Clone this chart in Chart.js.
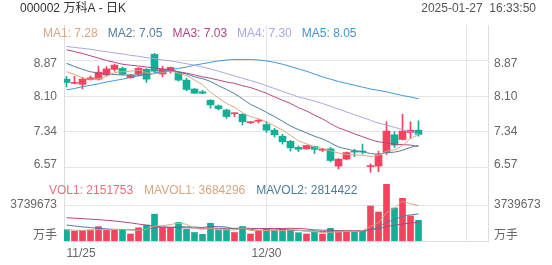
<!DOCTYPE html>
<html lang="zh-CN">
<head>
<meta charset="UTF-8">
<title>000002 万科A - 日K</title>
<script src="https://cdn.jsdelivr.net/npm/chart.js"></script>
<style>
  html, body { margin: 0; padding: 0; background: #fff; }
  #kline { display: block; }
</style>
</head>
<body>
<canvas id="kline" width="552" height="265"></canvas>
<script>
// trading days 2024-11-25 .. 2025-01-27
const dates = ['11/25','11/26','11/27','11/28','11/29','12/02','12/03','12/04','12/05','12/06',
  '12/09','12/10','12/11','12/12','12/13','12/16','12/17','12/18','12/19','12/20',
  '12/23','12/24','12/25','12/26','12/27','12/30','12/31','01/02','01/03','01/06',
  '01/07','01/08','01/09','01/10','01/13','01/14','01/15','01/16','01/17','01/20',
  '01/21','01/22','01/23','01/24','01/27'];

const open  = [8.47, 8.38, 8.36, 8.46, 8.47, 8.56, 8.68, 8.70, 8.50, 8.58, 8.68, 9.00, 8.58, 8.63, 8.60,
  8.45, 8.26, 8.20, 8.02, 7.90, 7.81, 7.73, 7.72, 7.54, 7.57, 7.50, 7.38, 7.25, 7.14, 7.01,
  6.98, 7.03, 6.95, 6.98, 6.61, 6.76, 6.92, 6.92, 6.60, 6.61, 6.90, 7.28, 7.18, 7.33, 7.38];
const close = [8.40, 8.39, 8.47, 8.50, 8.62, 8.69, 8.77, 8.58, 8.55, 8.70, 8.47, 8.64, 8.68, 8.72, 8.45,
  8.25, 8.17, 8.17, 7.92, 7.84, 7.67, 7.74, 7.56, 7.55, 7.58, 7.38, 7.28, 7.13, 7.00, 6.97,
  7.05, 6.97, 6.96, 6.73, 6.76, 6.90, 6.91, 6.91, 6.61, 6.85, 7.36, 7.06, 7.36, 7.38, 7.29];
const high  = [8.53, 8.53, 8.51, 8.54, 8.75, 8.74, 8.79, 8.73, 8.57, 8.72, 8.70, 9.02, 8.75, 8.73, 8.62,
  8.49, 8.27, 8.23, 8.03, 7.92, 7.83, 7.75, 7.73, 7.56, 7.61, 7.56, 7.42, 7.29, 7.16, 7.04,
  7.06, 7.04, 6.99, 7.01, 6.77, 6.91, 6.97, 7.08, 6.66, 6.93, 7.56, 7.35, 7.72, 7.56, 7.58];
const low   = [8.30, 8.37, 8.26, 8.45, 8.45, 8.54, 8.64, 8.56, 8.49, 8.54, 8.40, 8.61, 8.52, 8.60, 8.43,
  8.22, 8.16, 8.16, 7.85, 7.81, 7.63, 7.67, 7.49, 7.52, 7.53, 7.33, 7.23, 7.08, 6.93, 6.92,
  6.97, 6.88, 6.92, 6.70, 6.55, 6.75, 6.81, 6.87, 6.48, 6.49, 6.86, 7.01, 7.17, 7.21, 7.25];

const ma1 = [8.63, 8.57, 8.50, 8.47, 8.48, 8.53, 8.61, 8.63, 8.64, 8.66, 8.61, 8.59, 8.61, 8.64, 8.59,
  8.55, 8.45, 8.35, 8.19, 8.07, 7.95, 7.87, 7.75, 7.67, 7.62, 7.56, 7.47, 7.38, 7.27, 7.15,
  7.09, 7.02, 6.99, 6.94, 6.89, 6.86, 6.85, 6.84, 6.82, 6.84, 6.93, 6.96, 7.05, 7.20, 7.28];
const ma2 = [8.81, 8.74, 8.68, 8.63, 8.60, 8.58, 8.57, 8.56, 8.56, 8.56, 8.57, 8.59, 8.62, 8.64, 8.62,
  8.58, 8.52, 8.48, 8.42, 8.33, 8.25, 8.16, 8.05, 7.93, 7.85, 7.76, 7.67, 7.57, 7.47, 7.39,
  7.32, 7.25, 7.19, 7.11, 7.02, 6.98, 6.94, 6.92, 6.88, 6.87, 6.90, 6.91, 6.95, 7.01, 7.05];
const ma3 = [9.10, 9.06, 9.02, 8.97, 8.92, 8.87, 8.83, 8.79, 8.77, 8.75, 8.73, 8.71, 8.69, 8.67, 8.63,
  8.60, 8.56, 8.52, 8.49, 8.45, 8.41, 8.38, 8.33, 8.29, 8.23, 8.17, 8.09, 8.02, 7.95, 7.86,
  7.79, 7.70, 7.62, 7.52, 7.43, 7.37, 7.30, 7.24, 7.18, 7.13, 7.11, 7.08, 7.07, 7.06, 7.03];
const ma4 = [9.17, 9.15, 9.13, 9.11, 9.08, 9.06, 9.03, 9.01, 8.98, 8.96, 8.93, 8.91, 8.88, 8.86, 8.83,
  8.80, 8.77, 8.73, 8.69, 8.64, 8.59, 8.54, 8.49, 8.44, 8.39, 8.33, 8.27, 8.21, 8.15, 8.09,
  8.05, 8.00, 7.95, 7.89, 7.83, 7.77, 7.71, 7.65, 7.59, 7.53, 7.49, 7.44, 7.39, 7.35, 7.30];
const ma5 = [8.24, 8.27, 8.31, 8.34, 8.37, 8.41, 8.44, 8.47, 8.51, 8.54, 8.57, 8.60, 8.64, 8.67, 8.70,
  8.73, 8.77, 8.80, 8.83, 8.86, 8.88, 8.89, 8.89, 8.89, 8.88, 8.86, 8.83, 8.79, 8.74, 8.69,
  8.64, 8.58, 8.52, 8.47, 8.42, 8.38, 8.34, 8.30, 8.26, 8.23, 8.20, 8.16, 8.12, 8.09, 8.05];

const volume = [1174000, 1018000, 1091000, 1143000, 1486000, 1143000, 1143000, 1174000, 727000, 1371000,
  1662000, 2784000, 1402000, 1350000, 1922000, 1215000, 883000, 696000, 1839000, 1174000,
  1215000, 883000, 1506000, 727000, 1060000, 1299000, 1070000, 1215000, 1143000, 862000,
  727000, 935000, 727000, 1319000, 966000, 1039000, 935000, 1070000, 3636000, 3013000,
  5890000, 3428000, 4436000, 2597000, 2151753];
const mavol1 = [1150000, 1120000, 1100000, 1130000, 1182000, 1176000, 1201000, 1218000, 1135000, 1112000,
  1215000, 1544000, 1589000, 1714000, 1824000, 1735000, 1354000, 1213000, 1311000, 1161000,
  1161000, 1161000, 1323000, 1101000, 1078000, 1095000, 1132000, 1074000, 1157000, 1118000,
  1003000, 976000, 879000, 914000, 935000, 997000, 997000, 1066000, 1529000, 1939000,
  2909000, 3407000, 4081000, 3873000, 3684296];
const mavol2 = [1660000, 1560000, 1470000, 1390000, 1320000, 1260000, 1210000, 1180000, 1160000, 1147000,
  1196000, 1372000, 1404000, 1424000, 1468000, 1475000, 1449000, 1401000, 1512000, 1493000,
  1448000, 1258000, 1268000, 1206000, 1120000, 1128000, 1147000, 1199000, 1129000, 1098000,
  1049000, 1054000, 977000, 1036000, 1026000, 1000000, 987000, 972000, 1222000, 1437000,
  1953000, 2202000, 2573000, 2701000, 2814422];
const mavol3 = [2420000, 2370000, 2320000, 2270000, 2220000, 2150000, 2080000, 1990000, 1880000, 1760000,
  1640000, 1540000, 1470000, 1420000, 1390000, 1370000, 1350000, 1330000, 1325000, 1320000,
  1322000, 1315000, 1336000, 1315000, 1294000, 1302000, 1298000, 1300000, 1321000, 1295000,
  1249000, 1156000, 1122000, 1121000, 1073000, 1064000, 1067000, 1086000, 1175000, 1267000,
  1501000, 1628000, 1775000, 1868000, 1923000];

const maNames = ['MA1', 'MA2', 'MA3', 'MA4', 'MA5'];
const maLast = [7.28, 7.05, 7.03, 7.30, 8.05];
const volNames = ['VOL1', 'MAVOL1', 'MAVOL2'];
const volLast = [2151753, 3684296, 2814422];
const priceTicks = [6.57, 7.34, 8.10, 8.87];
const volTicks = [3739673];
const xTicks = [0, 25, 50];

// ---- layout / style ----
const title = '000002 万科A - 日K';
const stamp = '2025-01-27  16:33:50';
const FONT = 'Arial, "Liberation Sans", "Noto Sans CJK SC", sans-serif';
const RED = '#f4425f', GREEN = '#14ae97';
const maColors = ['#d8a680', '#4c7d9c', '#b4457f', '#a7a8e4', '#3e98d4'];
const volColors = ['#ea6f7b', '#d8a680', '#4c7d9c'];
const GRID = '#e6e6e6';

// price and volume share the full plot height; ranges chosen so price sits on top, volume at bottom
const PLOT_H = 216;
const PRICE_MIN = 5.0084, PRICE_MAX = 9.6288;
const VOL_MAX = 22438038;
const UNIT_POS = 520000; // where the "万手" label sits on the volume scale
const EDGE_NUDGE = 3.5;  // outer price labels are pulled inward by this many px
const X_MIN = -0.3125, X_MAX = 52.6875;

const PX = (PRICE_MAX - PRICE_MIN) / PLOT_H;
const volToPrice = v => PRICE_MIN + v / VOL_MAX * (PRICE_MAX - PRICE_MIN);

function sideTicks() {
  const t = [];
  const last = priceTicks.length - 1;
  priceTicks.forEach((v, k) => {
    if (k === 0 || k === last) {
      t.push({ value: v, text: '' });
      t.push({ value: v + (k === 0 ? 1 : -1) * EDGE_NUDGE * PX, text: v.toFixed(2), hide: true });
    } else {
      t.push({ value: v, text: v.toFixed(2) });
    }
  });
  volTicks.forEach(v => t.push({ value: volToPrice(v), text: String(v) }));
  t.push({ value: volToPrice(UNIT_POS), text: '万手', hide: true });
  return t.sort((a, b) => a.value - b.value);
}

const up = close.map((c, i) => c > open[i]);
const barColors = up.map(u => u ? RED : GREEN);
const pts = arr => arr.map((v, i) => ({ x: i, y: v }));

Chart.defaults.font.family = FONT;
Chart.defaults.font.size = 12;
Chart.defaults.color = '#666';

const lineDs = (label, arr, color, axis) => ({
  type: 'line', label, data: pts(arr), yAxisID: axis,
  borderColor: color, borderWidth: 1, pointRadius: 0,
  cubicInterpolationMode: 'monotone', order: 0
});

const datasets = [
  ...[ma1, ma2, ma3, ma4, ma5].map((arr, k) => lineDs(maNames[k], arr, maColors[k], 'y')),
  lineDs('MAVOL1', mavol1, maColors[0], 'v'),
  lineDs('MAVOL2', mavol2, maColors[1], 'v'),
  lineDs('MAVOL3', mavol3, maColors[2], 'v'),
  {
    label: 'body', data: dates.map((d, i) => ({ x: i, y: [open[i], close[i]] })),
    backgroundColor: barColors, yAxisID: 'y', grouped: false, minBarLength: 1,
    categoryPercentage: 1, barPercentage: 1, maxBarThickness: 7, order: 1
  },
  {
    label: 'wick', data: dates.map((d, i) => ({ x: i, y: [low[i], high[i]] })),
    backgroundColor: barColors, yAxisID: 'y', grouped: false,
    categoryPercentage: 1, barPercentage: 1, maxBarThickness: 1, order: 2
  },
  {
    label: 'volume', data: pts(volume),
    backgroundColor: barColors, yAxisID: 'v', grouped: false,
    categoryPercentage: 1, barPercentage: 1, maxBarThickness: 6, order: 2
  }
];

const textPlugin = {
  id: 'texts',
  afterDraw(chart) {
    const ctx = chart.ctx;
    ctx.save();
    ctx.font = '12px ' + FONT;
    ctx.textBaseline = 'middle';
    ctx.textAlign = 'left';
    ctx.fillStyle = '#333';
    ctx.fillText(title, 20, 9);
    ctx.textAlign = 'right';
    ctx.fillStyle = '#555';
    ctx.fillText(stamp, 536, 9);

    ctx.textAlign = 'left';
    let x = 43;
    maNames.forEach((n, k) => {
      const s = n + ': ' + maLast[k].toFixed(2);
      ctx.fillStyle = maColors[k];
      ctx.fillText(s, x, 34);
      x += ctx.measureText(s).width + 10;
    });
    x = 49;
    volNames.forEach((n, k) => {
      const s = n + ': ' + volLast[k];
      ctx.fillStyle = volColors[k];
      ctx.fillText(s, x, 191);
      x += ctx.measureText(s).width + 11;
    });
    ctx.restore();
  }
};

new Chart(document.getElementById('kline'), {
  type: 'bar',
  data: { datasets },
  options: {
    responsive: false,
    animation: false,
    devicePixelRatio: 1,
    layout: { padding: { top: 25, left: 0, right: 0, bottom: 0 } },
    plugins: { legend: { display: false }, tooltip: { enabled: false } },
    scales: {
      x: {
        type: 'linear', min: X_MIN, max: X_MAX, bounds: 'data', offset: false,
        afterFit: s => { s.height = 24; },
        afterBuildTicks: s => { s.ticks = xTicks.map(v => ({ value: v })); },
        grid: { offset: false, drawTicks: false, color: c => (c.tick && c.tick.value > 0) ? GRID : 'rgba(0,0,0,0)' },
        border: { color: '#dedede' },
        ticks: { autoSkip: false, maxRotation: 0, align: 'inner', padding: 5,
          callback: v => (v === 0 || v === 25) ? dates[v] : '' }
      },
      y: {
        type: 'linear', position: 'left', min: PRICE_MIN, max: PRICE_MAX, bounds: 'data',
        afterFit: s => { s.width = 64; },
        afterBuildTicks: s => { s.ticks = sideTicks(); },
        grid: { drawTicks: false, color: c => (c.tick && c.tick.hide) ? 'rgba(0,0,0,0)' : GRID },
        border: { color: '#dedede' },
        ticks: { autoSkip: false, padding: 7, callback: (v, i, t) => t[i].text }
      },
      y2: {
        type: 'linear', position: 'right', min: PRICE_MIN, max: PRICE_MAX, bounds: 'data',
        afterFit: s => { s.width = 64; },
        afterBuildTicks: s => { s.ticks = sideTicks(); },
        grid: { display: false, drawTicks: false },
        border: { color: '#dedede' },
        ticks: { autoSkip: false, padding: 6, callback: (v, i, t) => t[i].text }
      },
      v: { type: 'linear', display: false, min: 0, max: VOL_MAX }
    }
  },
  plugins: [textPlugin]
});
</script>
</body>
</html>
